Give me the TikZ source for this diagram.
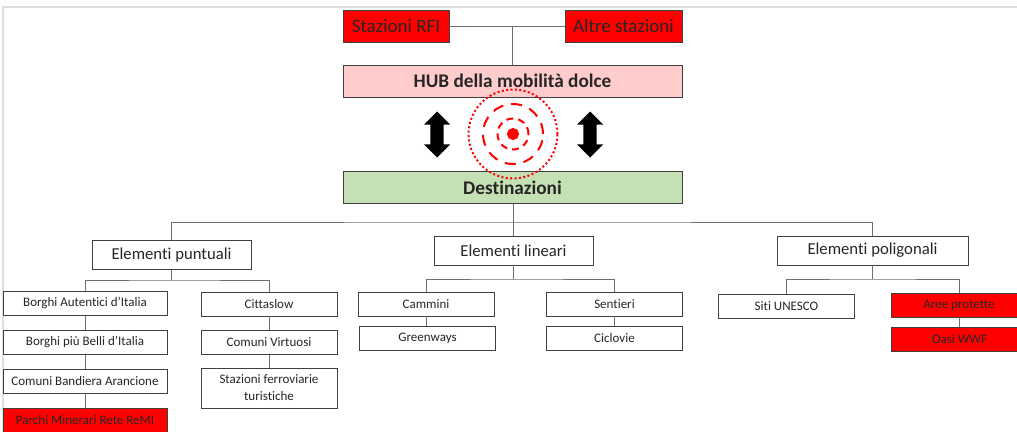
\documentclass[tikz,border=0pt]{standalone}
\usepackage{fontspec}
\setmainfont[Ligatures=NoCommon]{Carlito}
\usetikzlibrary{shapes.arrows}
\definecolor{hubpink}{RGB}{255,204,204}
\definecolor{destgreen}{RGB}{197,224,180}
\definecolor{linkgray}{RGB}{110,110,110}

\begin{document}
\begin{tikzpicture}[x=1pt,y=-1pt]
\tikzset{
    box/.style={%
        draw=black!75, line width=0.9pt,
        rectangle,
        inner sep=0pt,
        align=center,
        text=black!85
        },
    p1/.style={box, minimum height=32pt, font=\fontsize{19}{21}\selectfont},
    p2/.style={box, minimum width=339pt, minimum height=32pt, font=\fontsize{19.3}{21}\selectfont\bfseries},
    q1/.style={box, minimum height=29pt, font=\fontsize{16.7}{18}\selectfont},
    r1/.style={box, minimum height=24pt, font=\fontsize{13}{15}\selectfont},
    link/.style={draw=linkgray, line width=0.9pt},
    biarrow/.style={%
        double arrow, fill=black, draw=none,
        rotate=90,
        minimum height=46pt, inner xsep=0pt, inner ysep=6.5pt,
        double arrow head extend=6.5pt
        },
    ring/.style={draw=red, circle, inner sep=0pt, line width=2pt},
}
\useasboundingbox (0,0) rectangle (1017,431);
\clip (0,0) rectangle (1017,431);
%%%FRAME
\fill[white] (0,0) rectangle (1017,431);
\draw[black!13, line width=2pt] (2.5,431) -- (2.5,6.5) -- (1017,6.5);
%%%HUB
\node[p1, fill=red, minimum width=106pt] (rfi) at (396,26) {Stazioni RFI};
\node[p1, fill=red, minimum width=117pt] (altre) at (623.5,26) {Altre stazioni};
\node[p2, fill=hubpink] (hub) at (512.5,81) {HUB della mobilità dolce};
\node[p2, fill=destgreen] (dest) at (512.5,187.5) {Destinazioni};
%%%TARGET
\node[ring, dash pattern=on 2pt off 2.4pt, minimum size=89pt] (outer) at (513,134) {};
\node[ring, dash pattern=on 11pt off 8pt, minimum size=60pt] (middle) at (513,134) {};
\node[ring, dash pattern=on 7pt off 5pt, minimum size=31pt] (inner) at (513,134) {};
\node[ring, fill=red, minimum size=10pt] (dot) at (513,134) {};
\node[biarrow] (left) at (437,134.5) {};
\node[biarrow] (right) at (590,134.5) {};
%%%GROUPS
\node[q1, minimum width=159pt] (puntuali) at (171.5,255) {Elementi puntuali};
\node[q1, minimum width=159pt] (lineari) at (513.5,250.5) {Elementi lineari};
\node[q1, minimum width=191pt] (poligonali) at (872.5,250.5) {Elementi poligonali};
%%%ITEMS
\node[r1, minimum width=164pt] (autentici) at (85,303.5) {Borghi Autentici d’Italia};
\node[r1, minimum width=164pt] (belli) at (85,342.5) {Borghi più Belli d’Italia};
\node[r1, minimum width=164pt] (bandiera) at (85,381) {Comuni Bandiera Arancione};
\node[r1, minimum width=164pt, fill=red] (remi) at (85,420) {Parchi Minerari Rete ReMI};
\node[r1, minimum width=136pt] (citta) at (269,304) {Cittaslow};
\node[r1, minimum width=136pt] (virtuosi) at (269,342.5) {Comuni Virtuosi};
\node[r1, minimum width=136pt, minimum height=40pt] (ferrovia) at (269,388) {Stazioni ferroviarie\\[2pt]turistiche};
\node[r1, minimum width=136pt] (cammini) at (426,304) {Cammini};
\node[r1, minimum width=136pt] (greenways) at (427.5,338) {Greenways};
\node[r1, minimum width=136pt] (sentieri) at (614.5,304) {Sentieri};
\node[r1, minimum width=136pt] (ciclovie) at (614.5,338) {Ciclovie};
\node[r1, minimum width=136pt] (unesco) at (786.5,306) {Siti UNESCO};
\node[r1, minimum width=136pt, fill=red] (aree) at (959,305) {Aree protette};
\node[r1, minimum width=136pt, fill=red] (oasi) at (959.5,339.5) {Oasi WWF};
%%%CONNECTORS
\coordinate (bus) at (513.5,222);
\coordinate (puntualibus) at (171.5,280);
\coordinate (linearibus) at (513.5,279);
\coordinate (poligonalibus) at (872.5,279);
\draw[link] (rfi) -- (altre);
\draw[link] (hub.north) -- (hub.north |- rfi);
\draw[link] (lineari.north) -- (lineari.north |- dest.south);
\draw[link] (puntuali.north) |- (bus) -| (poligonali.north);
%
\draw[link] (puntuali.south) -- (puntualibus);
\draw[link] (autentici.north) |- (puntualibus) -| (citta.north);
\draw[link] (lineari.south) -- (linearibus);
\draw[link] (cammini.north) |- (linearibus) -| (sentieri.north);
\draw[link] (poligonali.south) -- (poligonalibus);
\draw[link] (unesco.north) |- (poligonalibus) -| (aree.north);
%
\draw[link] (autentici) -- (belli);
\draw[link] (belli) -- (bandiera);
\draw[link] (bandiera) -- (remi);
\draw[link] (citta) -- (virtuosi);
\draw[link] (virtuosi) -- (ferrovia);
\draw[link] (cammini.south) -- (cammini.south |- greenways.north);
\draw[link] (sentieri) -- (ciclovie);
\draw[link] (aree.south) -- (aree.south |- oasi.north);
\end{tikzpicture}
\end{document}
